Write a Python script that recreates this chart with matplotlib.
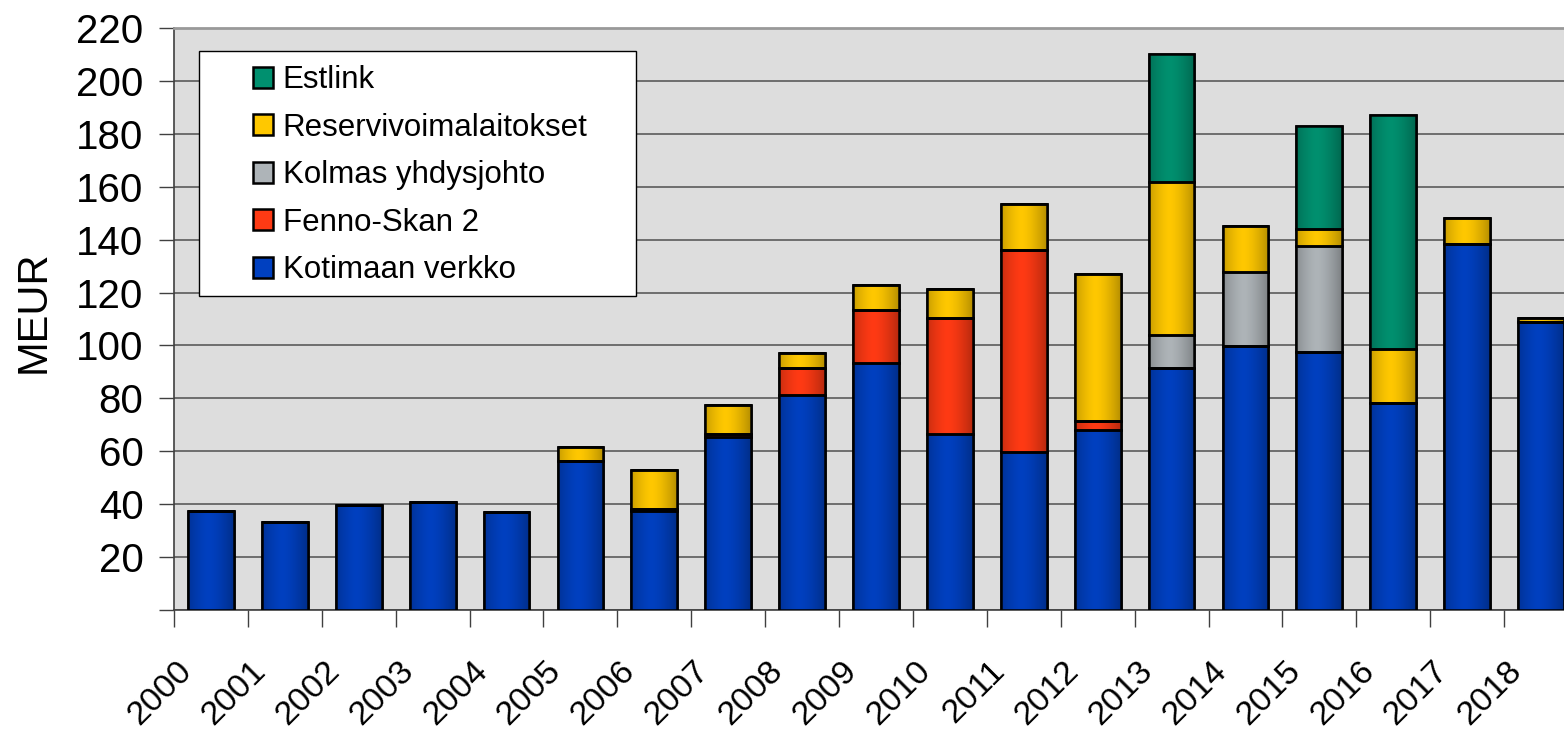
import numpy as np
import matplotlib.pyplot as plt
import matplotlib.transforms as mtransforms
from matplotlib.patches import Rectangle
from matplotlib.colors import to_rgb

plt.rcParams['font.family'] = ['Liberation Sans', 'DejaVu Sans']

years = ['2000', '2001', '2002', '2003', '2004', '2005', '2006', '2007', '2008', '2009',
         '2010', '2011', '2012', '2013', '2014', '2015', '2016', '2017', '2018']

# MEUR per year
kotimaan = [37.5, 33.4, 39.8, 41.0, 37.0, 56.2, 37.3, 65.4, 81.3, 93.3,
            66.5, 59.7, 68.1, 91.6, 99.7, 97.5, 78.4, 138.2, 109.0]
fenno = [0, 0, 0, 0, 0, 0, 1.0, 1.3, 10.3, 20.1,
         43.8, 76.3, 3.5, 0, 0, 0, 0, 0, 0]
kolmas = [0, 0, 0, 0, 0, 0, 0, 0, 0, 0,
          0, 0, 0, 12.2, 28.1, 40.0, 0, 0, 0]
reservi = [0, 0, 0, 0, 0, 5.5, 14.6, 10.8, 5.4, 9.4,
           11.0, 17.4, 55.4, 58.0, 17.4, 6.5, 20.4, 9.9, 1.4]
estlink = [0, 0, 0, 0, 0, 0, 0, 0, 0, 0,
           0, 0, 0, 48.2, 0, 38.8, 88.4, 0, 0]

series = [
    ('Kotimaan verkko', kotimaan, '#0040C0'),
    ('Fenno-Skan 2', fenno, '#FF3A14'),
    ('Kolmas yhdysjohto', kolmas, '#AEB4B8'),
    ('Reservivoimalaitokset', reservi, '#FFC800'),
    ('Estlink', estlink, '#00906F'),
]

fig = plt.figure(figsize=(15.64, 7.35), dpi=100)
ax = fig.add_axes([174 / 1564, 125 / 735, 1404 / 1564, 582 / 735])
ax.set_facecolor('#DDDDDD')

x = np.arange(len(years))
bottom = np.zeros(len(years))
width = 0.62

# horizontal shading profile like the cylinder-ish Excel bars
t = np.linspace(0, 1, 60)
shade = 1 - 0.28 * np.clip(np.abs(t - 0.45) / 0.55, 0, 1) ** 1.5

handles = []
for name, vals, col in series:
    vals = np.array(vals, dtype=float)
    bars = ax.bar(x, vals, width, bottom=bottom, color=col, edgecolor='black',
                  linewidth=1.8, zorder=3, label=name)
    rgb = np.array(to_rgb(col))
    grad = (shade[:, None] * rgb[None, :])[None, :, :]
    for b, v in zip(bars, vals):
        if v <= 0:
            continue
        im = ax.imshow(grad, extent=[b.get_x(), b.get_x() + b.get_width(),
                                     b.get_y(), b.get_y() + b.get_height()],
                       aspect='auto', zorder=3.2, interpolation='bilinear')
        im.set_clip_path(b)
    ax.bar(x, vals, width, bottom=bottom, fill=False, edgecolor='black',
           linewidth=1.8, zorder=3.5)
    handles.append(bars)
    bottom += vals

ax.set_xlim(-0.5, len(years) - 0.5)
ax.set_ylim(0, 220)

# y axis
ax.set_yticks(np.arange(0, 221, 20))
ax.set_yticklabels([''] + [str(v) for v in range(20, 221, 20)], fontsize=29)
ax.tick_params(axis='y', length=11, width=1, color='#404040', pad=11)
ax.yaxis.grid(True, color='#505050', linewidth=1.1, zorder=1)
ax.set_axisbelow(True)
ax.set_ylabel('MEUR', fontsize=30)
ax.yaxis.set_label_coords(-0.086, 0.512)

# x axis: ticks on category borders, labels under bars
ax.set_xticks(x)
ax.set_xticklabels(years, fontsize=24.5, rotation=45, ha='right', va='top')
ax.tick_params(axis='x', which='major', length=0, pad=32.4)
ax.set_xticks(np.arange(-0.5, len(years) - 0.4, 1), minor=True)
ax.tick_params(axis='x', which='minor', length=12, width=1, color='#404040')
offset = mtransforms.ScaledTranslation(-13 / 100, 0, fig.dpi_scale_trans)
for lab in ax.get_xticklabels():
    lab.set_transform(lab.get_transform() + offset)

for s in ['left', 'bottom']:
    ax.spines[s].set_color('#404040')
    ax.spines[s].set_linewidth(1.2)
ax.spines['top'].set_color('#999999')
ax.spines['top'].set_linewidth(2)
ax.spines['right'].set_visible(False)

# legend: white box with Excel-like wide margins
ax.add_patch(Rectangle((0.0178, 0.5395), 0.311, 0.4205, transform=ax.transAxes,
                       facecolor='white', edgecolor='black', linewidth=1.0, zorder=5))
leg = ax.legend(handles[::-1], [s[0] for s in series][::-1], loc='upper left',
                bbox_to_anchor=(0.056, 0.936), frameon=False, fontsize=22.5,
                handlelength=0.64, handleheight=0.64, handletextpad=0.32,
                labelspacing=0.56, borderpad=0, borderaxespad=0)
leg.set_zorder(6)

fig.savefig('out.png', dpi=100)
